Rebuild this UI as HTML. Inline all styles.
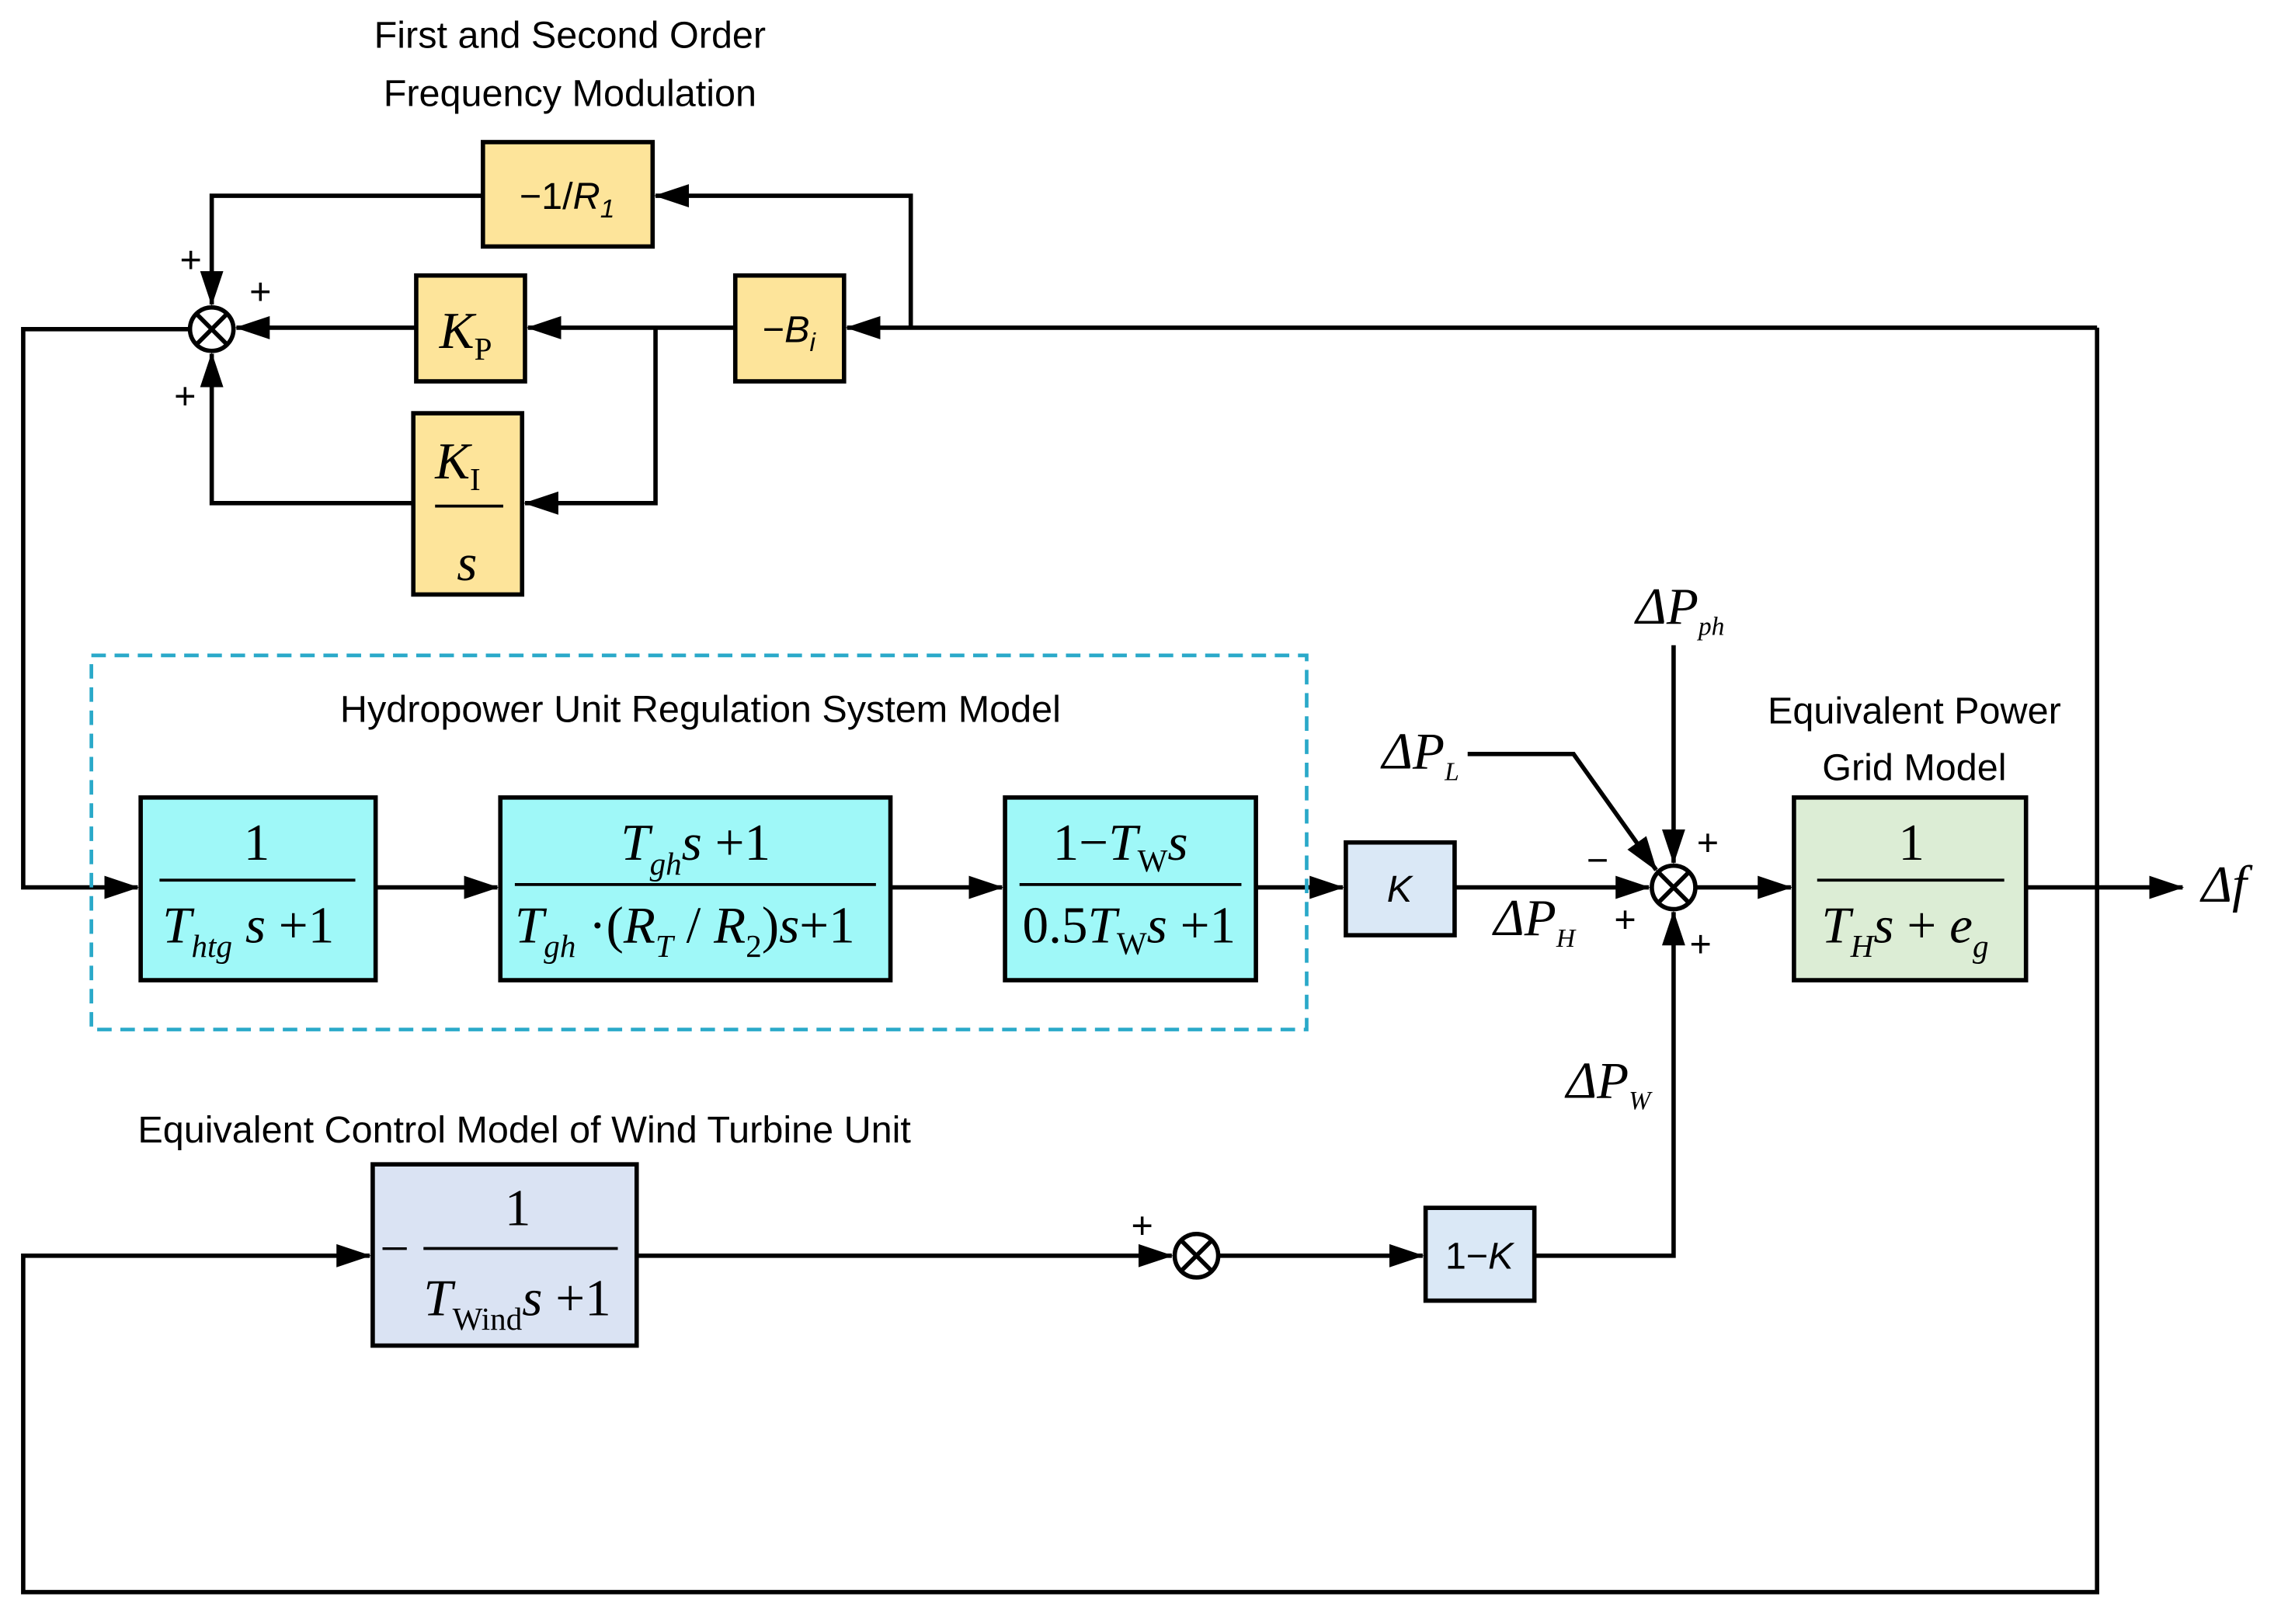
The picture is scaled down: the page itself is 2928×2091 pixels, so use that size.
<!DOCTYPE html>
<html><head><meta charset="utf-8"><style>
html,body{margin:0;padding:0;background:#fff}
svg{display:block}
.s{font-family:"Liberation Sans",sans-serif;font-size:26px}
.m{font-family:"Liberation Serif",serif;font-size:36px}
.i{font-style:italic}
</style></head><body>
<svg width="2928" height="2091" viewBox="0 0 1568 1120" preserveAspectRatio="none" xmlns="http://www.w3.org/2000/svg">
<defs><marker id="a" markerWidth="10" markerHeight="10" refX="9" refY="5" orient="auto" markerUnits="userSpaceOnUse" viewBox="0 0 10 10"><path d="M0,0 L10,5 L0,10 z" fill="#000"/></marker>
<marker id="b" markerWidth="24" markerHeight="20" refX="23" refY="10" orient="auto" markerUnits="userSpaceOnUse" viewBox="0 0 24 20"><path d="M0,2 L24,10 L0,18 z" fill="#000"/></marker></defs>
<rect width="1568" height="1120" fill="#fff"/>
<g fill="none" stroke="#000" stroke-width="3">
<!-- top section lines -->
<polyline points="628,226 628,135 452,135" marker-end="url(#b)"/>
<polyline points="1446,226 584,226" marker-end="url(#b)"/>
<polyline points="507,226 364,226" marker-end="url(#b)"/>
<polyline points="452,226 452,347 362,347" marker-end="url(#b)"/>
<polyline points="287,226 163,226" marker-end="url(#b)"/>
<polyline points="333,135 146,135 146,210" marker-end="url(#b)"/>
<polyline points="285,347 146,347 146,244" marker-end="url(#b)"/>
<polyline points="131,227 16,227 16,612 95,612" marker-end="url(#b)"/>
<polyline points="1446,226 1446,1098 16,1098 16,866 255,866" marker-end="url(#b)"/>
<!-- middle -->
<polyline points="259,612 343,612" marker-end="url(#b)"/>
<polyline points="614,612 691,612" marker-end="url(#b)"/>
<polyline points="866,612 926,612" marker-end="url(#b)"/>
<polyline points="1003,612 1137,612" marker-end="url(#b)"/>
<polyline points="1169,612 1235,612" marker-end="url(#b)"/>
<polyline points="1397,612 1505,612" marker-end="url(#b)"/>
<polyline points="1154,445 1154,595" marker-end="url(#b)"/>
<polyline points="1012,520 1085,520 1142,600" marker-end="url(#b)"/>
<!-- bottom -->
<polyline points="439,866 808,866" marker-end="url(#b)"/>
<polyline points="840,866 981,866" marker-end="url(#b)"/>
<polyline points="1058,866 1154,866 1154,629" marker-end="url(#b)"/>
</g>
<!-- boxes -->
<g stroke="#000" stroke-width="3">
<rect x="333" y="98" width="117" height="72" fill="#fde49a"/>
<rect x="287" y="190" width="75" height="73" fill="#fde49a"/>
<rect x="507" y="190" width="75" height="73" fill="#fde49a"/>
<rect x="285" y="285" width="75" height="125" fill="#fde49a"/>
<rect x="97" y="550" width="162" height="126" fill="#9ff8f8"/>
<rect x="345" y="550" width="269" height="126" fill="#9ff8f8"/>
<rect x="693" y="550" width="173" height="126" fill="#9ff8f8"/>
<rect x="928" y="581" width="75" height="64" fill="#dae8f6"/>
<rect x="1237" y="550" width="160" height="126" fill="#dcedd5"/>
<rect x="257" y="803" width="182" height="125" fill="#dae3f3"/>
<rect x="983" y="833" width="75" height="64" fill="#dae8f6"/>
</g>
<rect x="63" y="452" width="838" height="258" fill="none" stroke="#2aa9c9" stroke-width="2.5" stroke-dasharray="10,6"/>
<!-- sums -->
<g fill="#fff" stroke="#000" stroke-width="3">
<circle cx="146" cy="227" r="15"/><circle cx="1154" cy="612" r="15"/><circle cx="825" cy="866" r="15"/>
</g>
<g stroke="#000" stroke-width="3">
<path d="M135,216 L157,238 M157,216 L135,238"/>
<path d="M1143,601 L1165,623 M1165,601 L1143,623"/>
<path d="M814,855 L836,877 M836,855 L814,877"/>
</g>
<!-- fraction lines -->
<g stroke="#000" stroke-width="2">
<line x1="300" y1="349" x2="347" y2="349"/>
<line x1="110" y1="607" x2="245" y2="607"/>
<line x1="355" y1="610" x2="604" y2="610"/>
<line x1="703" y1="610" x2="856" y2="610"/>
<line x1="1253" y1="607" x2="1382" y2="607"/>
<line x1="292" y1="861" x2="426" y2="861"/>
</g>
<!-- texts -->
<text class="s" x="393" y="33" text-anchor="middle">First and Second Order</text>
<text class="s" x="393" y="73" text-anchor="middle">Frequency Modulation</text>
<text class="s" x="483" y="498" text-anchor="middle">Hydropower Unit Regulation System Model</text>
<text class="s" x="1320" y="499" text-anchor="middle">Equivalent Power</text>
<text class="s" x="1320" y="538" text-anchor="middle">Grid Model</text>
<text class="s" x="95" y="788">Equivalent Control Model of Wind Turbine Unit</text>
<text class="s" x="391" y="144" text-anchor="middle">−1/<tspan class="i">R</tspan><tspan class="i" font-size="18" dy="6">1</tspan></text>
<text class="s" x="544" y="236" text-anchor="middle">−<tspan class="i">B</tspan><tspan class="i" font-size="18" dy="6">i</tspan></text>
<text class="s i" x="965" y="622" text-anchor="middle">K</text>
<text class="s" x="1020" y="875" text-anchor="middle">1−<tspan class="i">K</tspan></text>
<text class="m" x="303" y="240"><tspan class="i">K</tspan><tspan font-size="22" dy="8">P</tspan></text>
<text class="m" x="300" y="330"><tspan class="i">K</tspan><tspan font-size="22" dy="8">I</tspan></text>
<text class="m i" x="322" y="400" text-anchor="middle">s</text>
<text class="m" x="177" y="593" text-anchor="middle">1</text>
<text class="m" x="112" y="650"><tspan class="i">T</tspan><tspan class="i" font-size="22" dy="10">htg</tspan><tspan class="i" dy="-10"> s</tspan> +1</text>
<text class="m" x="428" y="593"><tspan class="i">T</tspan><tspan class="i" font-size="22" dy="10">gh</tspan><tspan class="i" dy="-10">s</tspan> +1</text>
<text class="m" x="355" y="650"><tspan class="i">T</tspan><tspan class="i" font-size="22" dy="10">gh</tspan><tspan dy="-10"> ·(</tspan><tspan class="i">R</tspan><tspan class="i" font-size="22" dy="10">T</tspan><tspan dy="-10"> / </tspan><tspan class="i">R</tspan><tspan font-size="22" dy="10">2</tspan><tspan dy="-10">)</tspan><tspan class="i">s</tspan>+1</text>
<text class="m" x="726" y="593">1−<tspan class="i">T</tspan><tspan font-size="22" dy="8">W</tspan><tspan class="i" dy="-8">s</tspan></text>
<text class="m" x="705" y="650">0.5<tspan class="i">T</tspan><tspan font-size="22" dy="8">W</tspan><tspan class="i" dy="-8">s</tspan> +1</text>
<text class="m" x="1318" y="593" text-anchor="middle">1</text>
<text class="m" x="1256" y="650"><tspan class="i">T</tspan><tspan class="i" font-size="22" dy="10">H</tspan><tspan class="i" dy="-10">s</tspan> + <tspan class="i">e</tspan><tspan class="i" font-size="22" dy="10">g</tspan></text>
<text class="m" x="357" y="845" text-anchor="middle">1</text>
<text class="m" x="262" y="873">−</text>
<text class="m" x="292" y="907"><tspan class="i">T</tspan><tspan font-size="22" dy="10">Wind</tspan><tspan class="i" dy="-10">s</tspan> +1</text>
<g class="m i" font-size="28">
<text x="1128" y="430">Δ<tspan>P</tspan><tspan font-size="18" dy="8">ph</tspan></text>
<text x="953" y="530">Δ<tspan>P</tspan><tspan font-size="18" dy="8">L</tspan></text>
<text x="1030" y="645">Δ<tspan>P</tspan><tspan font-size="18" dy="8">H</tspan></text>
<text x="1080" y="757">Δ<tspan>P</tspan><tspan font-size="18" dy="8">W</tspan></text>
<text x="1518" y="622">Δ<tspan>f</tspan></text>
</g>
<g class="s" font-size="22">
<text x="124" y="188">+</text><text x="172" y="210">+</text><text x="120" y="282">+</text>
<text x="1170" y="590">+</text><text x="1094" y="602">−</text><text x="1113" y="643">+</text><text x="1165" y="660">+</text>
<text x="780" y="854">+</text>
</g>
</svg>
</body></html>
